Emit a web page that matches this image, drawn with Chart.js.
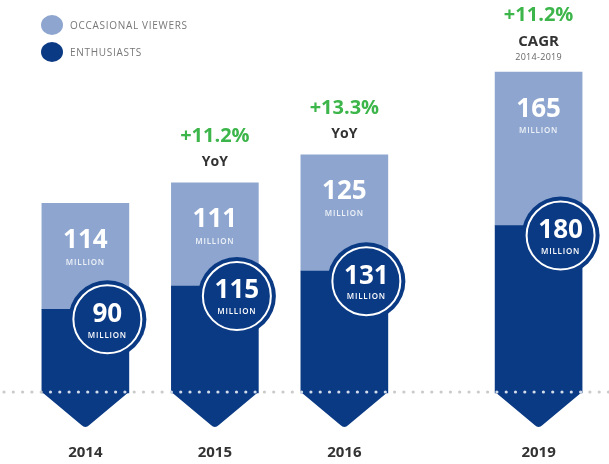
<!DOCTYPE html>
<html>
<head>
<meta charset="utf-8">
<script src="https://cdn.jsdelivr.net/npm/chart.js@4.4.1/dist/chart.umd.min.js"></script>
<style>
  html, body { margin: 0; padding: 0; background: #fff; }
  #wrap { width: 609px; height: 464px; position: relative; }
</style>
</head>
<body>
<div id="wrap"><canvas id="c"></canvas></div>
<script>
const years = ['2014', '2015', '2016', '2019'];
const enthusiasts = [90, 115, 131, 180];
const occasional = [114, 111, 125, 165];
const growth = ['', '+11.2%', '+13.3%', '+11.2%'];
const growthNote = ['', 'YoY', 'YoY', 'CAGR'];
const growthRange = ['', '', '', '2014-2019'];

const DARK = '#0b3a84', LIGHT = '#8ea6cf', GREEN = '#3cb54a';
const FONT = '"Open Sans", sans-serif';

// each year sits on a half-step slot so 2017/18 leave a gap before 2019
const slots = [0, 2, 4, 7];
const labels = Array(8).fill('');
const darkData = Array(8).fill(null), lightData = Array(8).fill(null);
slots.forEach((s, i) => { labels[s] = years[i]; darkData[s] = enthusiasts[i]; lightData[s] = occasional[i]; });

function txt(ctx, s, x, y, font, color, spacing) {
  ctx.font = font; ctx.fillStyle = color;
  ctx.letterSpacing = spacing || '0px';
  ctx.textAlign = 'center'; ctx.textBaseline = 'middle';
  ctx.fillText(s, x, y);
}

const decor = {
  id: 'decor',
  afterDatasetsDraw(chart) {
    const ctx = chart.ctx;
    const dark = chart.getDatasetMeta(0).data, light = chart.getDatasetMeta(1).data;
    ctx.save();
    const bars = [];
    slots.forEach(s => {
      const d = dark[s].getProps(['x', 'y', 'base', 'width'], true);
      bars.push(d);
      const h = d.width / 2;
      ctx.fillStyle = DARK;
      ctx.beginPath();
      ctx.moveTo(d.x - h, d.base - 1);
      ctx.lineTo(d.x + h, d.base - 1);
      ctx.lineTo(d.x + 4, d.base + 32);
      ctx.quadraticCurveTo(d.x, d.base + 36, d.x - 4, d.base + 32);
      ctx.closePath();
      ctx.fill();
    });
    // dotted baseline
    const by = bars[0].base - 1;
    for (let x = 4; x < chart.width; x += 9.3) {
      const on = bars.some(b => Math.abs(x - b.x) < b.width / 2);
      ctx.fillStyle = on ? '#d3dcea' : '#cacaca';
      ctx.beginPath(); ctx.arc(x, by, 1.6, 0, Math.PI * 2); ctx.fill();
    }
    slots.forEach((s, i) => {
      const d = bars[i];
      const l = light[s].getProps(['x', 'y'], true);
      // occasional viewers label
      txt(ctx, String(occasional[i]), l.x, l.y + 37, 'bold 26px ' + FONT, '#fff');
      txt(ctx, 'MILLION', l.x, l.y + 59, '600 8px ' + FONT, '#eef2f8', '0.8px');
      // enthusiasts badge
      const cx = d.x + 22, cy = d.y + 10;
      ctx.fillStyle = DARK;
      ctx.beginPath(); ctx.arc(cx, cy, 39, 0, Math.PI * 2); ctx.fill();
      ctx.strokeStyle = '#fff'; ctx.lineWidth = 2;
      ctx.beginPath(); ctx.arc(cx, cy, 34, 0, Math.PI * 2); ctx.stroke();
      txt(ctx, String(enthusiasts[i]), cx, cy - 5, 'bold 26px ' + FONT, '#fff');
      txt(ctx, 'MILLION', cx, cy + 16, '600 8px ' + FONT, '#fff', '0.8px');
      // growth notes
      if (growthRange[i]) {
        txt(ctx, growth[i], l.x, l.y - 57, 'bold 20px ' + FONT, GREEN);
        txt(ctx, growthNote[i], l.x, l.y - 30, 'bold 15px ' + FONT, '#333');
        txt(ctx, growthRange[i], l.x, l.y - 15, '9px ' + FONT, '#666', '0.3px');
      } else if (growth[i]) {
        txt(ctx, growth[i], l.x, l.y - 47, 'bold 20px ' + FONT, GREEN);
        txt(ctx, growthNote[i], l.x, l.y - 21, 'bold 14px ' + FONT, '#333');
      }
    });
    // legend
    [[1, 25], [0, 52]].forEach(([di, y]) => {
      const ds = chart.data.datasets[di];
      ctx.fillStyle = ds.backgroundColor;
      ctx.beginPath(); ctx.ellipse(52, y, 11, 10, 0, 0, Math.PI * 2); ctx.fill();
      ctx.font = '10px ' + FONT; ctx.fillStyle = '#777'; ctx.letterSpacing = '0.7px';
      ctx.textAlign = 'left'; ctx.textBaseline = 'middle';
      ctx.fillText(ds.label, 70, y + 1);
    });
    ctx.restore();
  }
};

new Chart(document.getElementById('c'), {
  type: 'bar',
  data: {
    labels,
    datasets: [
      { label: 'ENTHUSIASTS', data: darkData, backgroundColor: DARK, clip: false },
      { label: 'OCCASIONAL VIEWERS', data: lightData, backgroundColor: LIGHT, clip: false },
    ],
  },
  options: {
    responsive: true,
    maintainAspectRatio: false,
    animation: false,
    layout: { padding: { top: 21, left: 53, right: 36, bottom: 0 } },
    datasets: { bar: { barThickness: 87 } },
    plugins: { legend: { display: false }, tooltip: { enabled: false } },
    scales: {
      x: {
        stacked: true,
        grid: { display: false, drawTicks: false },
        border: { display: false },
        ticks: { padding: 51, color: '#333', font: { family: FONT, size: 15, weight: 'bold' }, autoSkip: false, maxRotation: 0 },
        afterFit(scale) { scale.height = 71; },
      },
      y: { stacked: true, display: false, min: 0, max: 400 },
    },
  },
  plugins: [decor],
});
</script>
</body>
</html>
